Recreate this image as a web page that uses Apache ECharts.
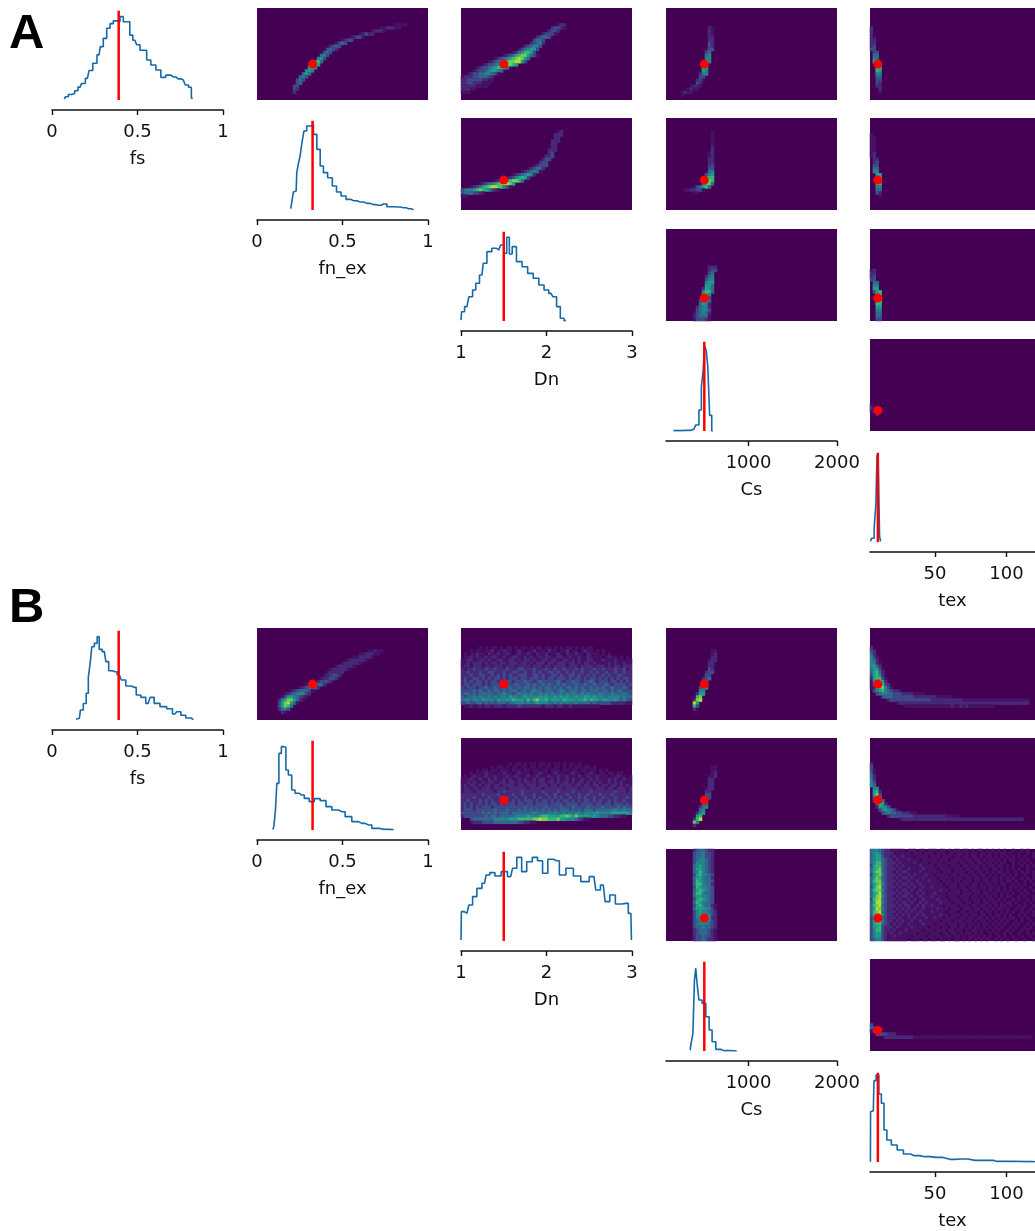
<!DOCTYPE html>
<html><head><meta charset="utf-8">
<script src="https://cdn.jsdelivr.net/npm/echarts@6/dist/echarts.min.js"></script>
<style>html,body{margin:0;padding:0;background:#fff}#main{width:1035px;height:1231px;filter:blur(0.7px)}</style>
</head><body><div id="main"></div>
<script>
// ---------- parameter names, ranges, truth values and tick labels ----------
const paramNames = ['fs','fn_ex','Dn','Cs','tex'];
const paramMin = [0,0,1,67,4.5];
const paramMax = [1,1,3,2000,120];
const paramTruth = [0.39,0.325,1.5,500,10];
const paramTicks = [[0,0.5,1],[0,0.5,1],[1,2,3],[1000,2000],[50,100]];

// ---------- 1-D histograms: [value, relative height] ----------
const histA_fs = [[.072,.01],[.086,.036],[.105,.06],[.125,.07],[.14,.10],[.164,.14],[.183,.18],[.207,.235],[.226,.32],[.251,.40],[.275,.49],[.29,.58],[.31,.67],[.33,.78],[.349,.83],[.368,.86],[.388,.85],[.407,.906],[.427,.85],[.45,.85],[.46,.705],[.485,.65],[.505,.60],[.524,.54],[.544,.54],[.563,.435],[.593,.38],[.622,.326],[.651,.246],[.68,.27],[.71,.25],[.739,.23],[.768,.217],[.791,.163],[.807,.138],[.823,.02]];
const histA_fnex = [[.197,.015],[.209,.08],[.217,.196],[.229,.206],[.236,.406],[.246,.496],[.258,.587],[.268,.732],[.281,.859],[.30,.913],[.32,.92],[.34,.822],[.36,.659],[.379,.478],[.398,.406],[.428,.351],[.453,.261],[.477,.196],[.506,.152],[.535,.116],[.564,.101],[.604,.087],[.643,.072],[.682,.058],[.711,.051],[.74,.065],[.779,.036],[.818,.033],[.857,.025],[.887,.014],[.916,.004]];
const histA_Dn = [[1.0,.01],[1.013,.10],[1.07,.156],[1.114,.264],[1.157,.337],[1.188,.41],[1.245,.50],[1.275,.627],[1.332,.754],[1.389,.79],[1.441,.772],[1.485,.826],[1.52,.736],[1.55,.91],[1.581,.728],[1.616,.808],[1.681,.645],[1.747,.59],[1.812,.518],[1.878,.464],[1.943,.391],[2.0,.337],[2.052,.30],[2.096,.264],[2.14,.156],[2.183,.03],[2.227,.004]];
const histA_Cs = [[151,.004],[319,.007],[382,.02],[424,.065],[454,.228],[479,.48],[496,.66],[506,.93],[513,.91],[529,.88],[550,.70],[571,.17],[597,0]];
const histA_tex = [[4.8,.007],[6.5,.04],[8.3,.15],[9,.42],[9.8,.945],[10.8,.855],[11.6,.06],[12.3,.007]];
const histB_fs = [[.14,.007],[.16,.018],[.173,.109],[.193,.18],[.207,.29],[.218,.47],[.228,.616],[.238,.797],[.257,.833],[.271,.906],[.281,.768],[.306,.743],[.324,.634],[.339,.536],[.368,.525],[.394,.489],[.417,.435],[.446,.37],[.48,.355],[.505,.272],[.534,.246],[.563,.181],[.583,.246],[.612,.181],[.651,.145],[.69,.123],[.719,.065],[.739,.09],[.768,.051],[.797,.022],[.827,.004]];
const histB_fnex = [[.092,.007],[.105,.036],[.111,.217],[.121,.507],[.135,.833],[.15,.906],[.164,.899],[.174,.652],[.193,.598],[.213,.435],[.232,.399],[.262,.38],[.291,.344],[.32,.308],[.35,.341],[.389,.319],[.418,.254],[.457,.217],[.496,.199],[.535,.145],[.574,.091],[.613,.072],[.652,.054],[.691,.018],[.74,.007],[.799,.004]];
const histB_Dn = [[1.0,.01],[1.009,.319],[1.07,.30],[1.114,.391],[1.157,.482],[1.214,.572],[1.275,.627],[1.31,.717],[1.362,.743],[1.432,.707],[1.507,.754],[1.581,.70],[1.624,.79],[1.681,.909],[1.738,.754],[1.799,.862],[1.869,.909],[1.921,.873],[1.987,.736],[2.044,.888],[2.118,.873],[2.183,.717],[2.271,.79],[2.358,.707],[2.445,.645],[2.555,.70],[2.598,.554],[2.664,.609],[2.707,.428],[2.773,.50],[2.838,.402],[2.926,.409],[2.987,.30],[3.0,.01]];
const histB_Cs = [[340,.01],[361,.083],[382,.192],[395,.77],[412,.90],[424,.735],[454,.554],[496,.518],[538,.373],[571,.228],[605,.10],[655,.018],[718,.004],[866,0]];
const histB_tex = [[4.8,.004],[5.0,.547],[6.8,.558],[7.8,.884],[9.8,.946],[11.6,.739],[13.3,.638],[15.3,.348],[17.3,.239],[21.6,.185],[25.4,.13],[30.4,.087],[35.4,.069],[43,.058],[50.5,.05],[60.5,.029],[68,.033],[78,.018],[90.7,.018],[93,.007],[115,.004],[120,.003]];

// ---------- 2-D density cells (57 x 30 bins): "row:firstColumn:levels", row 0 at the top ----------
const A_fs_fnex = ["5:46:1111","6:41:1122211","7:38:12221","8:34:12322","9:31:12331","10:28:1233","11:26:1343","12:24:2343","13:23:3432","14:22:343","15:21:453","16:20:563","17:19:574","18:18:676","19:17:675","20:16:565","21:15:464","22:14:453","23:13:343","24:13:34","25:12:33","26:12:32","27:12:2"];
const A_fs_Dn = ["5:32:122","6:30:23321","7:29:2332","8:27:23331","9:25:23443","10:24:3443","11:23:23452","12:21:234553","13:19:1345663","14:17:12457763","15:14:123467886431","16:11:123456789864","17:9:1234567889963","18:7:123345678876","19:5:12334567764","20:4:1233456654","21:2:12334455431","22:0:12223344432","23:0:22333332211","24:0:2233222111","25:0:222221111","26:0:22211","27:0:111"];
const A_fs_Cs = ["6:14:21","7:14:21","8:14:21","9:14:22","10:14:22","11:14:32","12:14:32","13:13:133","14:13:34","15:13:45","16:13:55","17:12:265","18:12:67","19:12:76","20:12:65","21:11:255","22:11:33","23:10:231","24:10:32","25:8:1221","26:7:1211","27:5:1211","28:5:1"];
const A_fs_tex = ["6:0:2","7:0:2","8:0:2","9:0:21","10:0:22","11:0:22","12:0:23","13:0:33","14:1:33","15:1:44","16:1:54","17:1:65","18:2:77","19:2:77","20:2:76","21:2:55","22:2:44","23:2:33","24:2:32","25:2:22","26:3:2","27:3:1"];
const A_fnex_Dn = ["4:32:12","5:31:222","6:31:22","7:30:222","8:30:22","9:30:22","10:29:222","11:29:23","12:28:223","13:27:233","14:26:233","15:24:12333","16:22:123442","17:20:1234541","18:17:12345652","19:15:12356763","20:11:1234678874","21:6:123456789986","22:3:12346789987531","23:0:3455678765321","24:0:34443321","25:0:11"];
const A_fnex_Cs = ["4:15:1","5:15:1","6:15:1","7:15:1","8:15:1","9:15:2","10:15:2","11:14:12","12:14:12","13:14:22","14:14:22","15:14:23","16:14:33","17:14:45","18:13:356","19:13:577","20:12:2687","21:12:5784","22:9:134674","23:6:1122331","24:9:11"];
const A_fnex_tex = ["5:0:1","6:0:11","7:0:11","8:0:11","9:0:11","10:0:11","11:0:12","12:0:12","13:1:22","14:1:23","15:1:33","16:1:44","17:1:55","18:2:66","19:2:77","20:2:88","21:2:77","22:2:55","23:2:44","24:2:32","25:3:1"];
const A_Dn_Cs = ["12:14:222","13:14:233","14:14:34","15:13:245","16:13:355","17:13:566","18:13:664","19:12:2664","20:12:5774","21:12:775","22:12:773","23:11:3774","24:11:4652","25:10:24552","26:10:34553","27:9:134542","28:9:234441","29:9:133321"];
const A_Dn_tex = ["13:0:12","14:0:22","15:0:23","16:0:33","17:1:44","18:1:55","19:1:66","20:1:367","21:2:77","22:2:88","23:2:88","24:2:77","25:2:66","26:2:55","27:2:44","28:2:44","29:2:33"];
const A_Cs_tex = ["21:0:1","22:0:212","23:0:123","24:2:2"];

const B_fs_fnex = ["7:37:11211","8:34:1122211","9:32:1122221","10:30:1222221","11:28:1222221","12:26:1222221","13:24:1222221","14:23:122222","15:22:122332","16:21:122332","17:20:23332","18:16:1233442","19:14:1234442","20:11:12344431","21:9:123455532","22:8:136654321","23:7:256886421","24:7:3689641","25:7:36874","26:7:2453","27:8:21"];
const B_fs_Dn = [
"6:6:10101101011010110101101101010110101011",
"7:3:10110112011211012101120110211011201101211 0101",
"8:1:1011211021121121012112102112011210211211021 110101",
"9:1:11212112122112112211212112122112211211211211 11012110101",
"10:0:1122112212112211221212212112212211221212112211 12111211011",
"11:0:11212221212212212221221212221221222122121221211 1121211211",
"12:0:1221222122 1222122212 2221222122 1222212221 2222122212 1221222",
"13:0:2122322232 2322232223 3222322232 2322322232 3222322322 2322312",
"14:0:2232223223 3222322332 2322323223 3232232322 3223232232 2322322",
"15:0:2223223322 3232323223 3322332322 3323223323 2232322323 2233222",
"16:0:2322332323 2332323332 3323332323 3233323233 2323323232 3232332",
"17:0:2323233232 3323433233 3433234333 3343233433 2334323332 3323232",
"18:0:2332333232 3333343343 3343433434 3343433343 3433433343 2333323",
"19:0:3233323343 3433434334 3443434344 3434344343 4334343433 4333432",
"20:0:3333434334 3443434443 4434544344 4345434443 4434443443 4344333",
"21:0:3443434444 4344544345 4545445454 5445454544 5454445444 5444443",
"22:0:4344545445 4545546554 5655556565 5656565565 5665655545 5554544",
"23:0:4554554655 5465565766 6575786675 6665766656 6757665665 5654543",
"24:0:3343344343 4344434455 5454565554 4545454454 4443433333 2222211",
"25:1:11211212212 2212222322 2222212221 2211211111 1111"];
const B_fs_Cs = ["7:15:11","8:15:12","9:15:22","10:14:122","11:14:22","12:14:22","13:14:32","14:13:233","15:13:33","16:12:234","17:12:44","18:12:55","19:11:356","20:11:55","21:10:266","22:10:78","23:9:289","24:9:96","25:9:73","26:9:2"];
const B_fs_tex = ["6:0:2","7:0:32","8:0:42","9:0:531","10:0:542","11:0:5521","12:0:5642","13:0:46631","14:0:46742","15:0:36752","16:0:267731","17:0:157862","18:0:1379732","19:0:12678531","20:1:3567543221","21:2:34554433322221111","22:4:3444333333 3222222221 1111","23:6:2333333333 3333322222 2222221111 1111111 111111111111","24:9:1222222222 2222222222 2222222222 2222222 222222222","25:12:1111111111 1111112112 1211111111 1"];
const B_fnex_Dn = [
"8:16:1011010110 1101011010 1101",
"9:10:1011010110 1101101011 0110101011 01101",
"10:5:1011011011 1011101101 1011011101 1011011011 0101",
"11:3:1011121101 1211012111 0112110121 1101211011 2101101 1011",
"12:1:1012111211 2111211211 1211211121 1211211121 1211211101 121101",
"13:0:1112112112 1211212112 1211212211 2121121211 2112121112 1211 211",
"14:0:1121211212 2112212212 1221212212 2121221212 2121212112 1212111",
"15:0:1212212122 1221222212 2122212221 2212222122 1221221221 2212121",
"16:0:1221221222 1222212222 2212222122 2222122221 2222122212 2122212",
"17:0:1222122222 2122322222 3222222322 2232222322 2223222222 2322212",
"18:0:2222222322 2232222322 3222322232 2322232223 2232223222 3222222",
"19:0:2222322223 2223232232 2322323223 2323223223 2322322322 2322232",
"20:0:2232223232 3223322323 2333232332 3232332323 2332323223 2322322",
"21:0:2323223232 3323233323 3233233332 3333233332 3333233233 2333232",
"22:0:2323232333 2333333333 3433333343 3334333433 3343333433 3343433",
"23:0:2333233333 3433343334 3434343434 3434443434 3444344444 4544544",
"24:0:3333333434 3434443444 4444544445 4544545455 4555565555 6666665",
"25:0:2333333343 4434444455 5565556776 6667787686 6665654443 3221100",
"26:3:3444444455 5556667777 7889887778 6655543211",
"27:3:1222333344 4444443322 11"];
const B_fnex_Cs = ["9:15:11","10:15:11","11:15:12","12:14:112","13:14:22","14:14:22","15:14:22","16:13:122","17:13:22","18:13:33","19:12:133","20:12:34","21:12:44","22:11:245","23:11:45","24:10:256","25:10:67","26:9:279","27:9:85","28:9:2"];
const B_fnex_tex = ["8:0:2","9:0:3","10:0:31","11:0:41","12:0:42","13:0:52","14:0:53","15:0:54","16:1:55","17:1:672","18:1:683","19:1:485","20:1:3784","21:2:4762","22:2:26653","23:3:3565431","24:4:3454433222 11","25:6:2333333332 2222222222 11111","26:10:1222222222 2222222222 2222222222 2222222 222222"];
const B_Dn_Cs = ["0:9:2344322","1:9:3445332","2:9:3445332","3:9:3455432","4:9:3555432","5:9:4565432","6:9:4665432","7:9:4575432","8:9:3675543","9:9:4665442","10:9:4765443","11:9:4775442","12:9:3765543","13:9:4676543","14:9:4775443","15:9:4665543","16:9:3676543","17:9:4765443","18:9:36754421","19:9:46665531","20:9:35655432","21:9:35665532","22:9:35566622","23:9:34555532","24:9:34555432","25:9:34454432","26:9:23444321","27:9:23444321","28:9:23343321","29:9:23343221"];
const B_Dn_tex = [
"0:0:4554322111 1101110110 1110110101 1011010110 1010101001 0010100",
"1:0:4565322211 1111011101 1101110110 1101011011 0101011010 0100101",
"2:0:4566322121 1211101111 0111011101 1011011010 1101010101 0101001",
"3:0:4566432212 1112111011 1110111011 1101101101 0110101011 0010100",
"4:0:4577432221 2111121111 0111101111 0110110110 1101011001 0101010",
"5:0:3677432212 1211111211 1101111011 1011011101 0110110101 0010101",
"6:0:4678432221 2112111121 1110111101 1101101101 1011010101 0100100",
"7:0:4688432212 1221111211 1111011101 1110110110 1010110100 1010101",
"8:0:3678532221 2112121112 1101111011 0111011011 0101011010 1001001",
"9:0:4687432212 1221211121 1110111101 1101101101 1011010101 0010101",
"10:0:4788432221 2112112111 2111011101 1011101101 1011010110 1001010",
"11:0:4678532212 1221211211 1111101111 0111011010 1101011001 0101001",
"12:0:3689432221 2112121121 1211110111 0110111011 0110101010 1010010",
"13:0:4788532212 1221211211 1111211011 1011011101 0101101010 0101001",
"14:0:4679432221 2122112121 1121110111 1011101101 1011010101 0010100",
"15:0:4689532212 1221211211 1211110111 0111011010 1101010110 0101001",
"16:0:3789432221 2112121121 1112111011 1011011101 0110101001 0100101",
"17:0:4699532212 1221211212 1111211101 1101101101 1011010110 1001010",
"18:0:4789432221 2122112121 1211101111 0111011011 0101011010 0101001",
"19:0:4698532212 1212121121 1112111011 1011101101 1010110100 1010010",
"20:0:4789432221 2121211211 1211110111 0110111010 1101010101 0010101",
"21:0:4789532212 1212112121 1111211011 1011011011 0101101010 0101001",
"22:0:3699432221 2112121112 1121101111 0110110110 1010101011 0010100",
"23:0:3678432212 1211211211 1111011101 1101101011 0101010100 1010010",
"24:0:3677432121 2112111121 1101110111 0110110101 1010101001 0100101",
"25:0:3667322212 1111211111 0111011011 0110101101 0101010010 1001010",
"26:0:3577322121 1121111101 1101110110 1101011010 1010100101 0010100",
"27:0:3566321211 2111110111 0111011011 0101101010 0101001010 0100101",
"28:0:3566321121 1111011110 1101101101 1010110101 0100101001 0010010",
"29:0:3455321111 1110111011 0110110101 1010101010 1001010100 1001001"];
const B_Cs_tex = ["21:0:3","22:0:432","23:0:1343","24:2:3333222","25:5:2222222222 1111111111 1111111111 1111111111 1111111111 1"];

// ---------- panels: which data belongs to which figure ----------
const histsA = [histA_fs,histA_fnex,histA_Dn,histA_Cs,histA_tex];
const histsB = [histB_fs,histB_fnex,histB_Dn,histB_Cs,histB_tex];
const heatsA = [[null,A_fs_fnex,A_fs_Dn,A_fs_Cs,A_fs_tex],[null,null,A_fnex_Dn,A_fnex_Cs,A_fnex_tex],[null,null,null,A_Dn_Cs,A_Dn_tex],[null,null,null,null,A_Cs_tex]];
const heatsB = [[null,B_fs_fnex,B_fs_Dn,B_fs_Cs,B_fs_tex],[null,null,B_fnex_Dn,B_fnex_Cs,B_fnex_tex],[null,null,null,B_Dn_Cs,B_Dn_tex],[null,null,null,null,B_Cs_tex]];

// ---------- layout ----------
const colLeft = [52,257,461,666,870];
const rowTop = [8,118,229,339,450];
const figOffset = [0,620];
const panelW = 171, panelH = 92;
const nCols = 57, nRows = 30;
const viridis = ['#440154','#471164','#482878','#3e4989','#31688e','#26828e','#1f9e89','#35b779','#6ece58','#b5de2b','#fde725'];
const txt = '#111', font = 'DejaVu Sans';

const colCats = Array.from({length:nCols},(_, i)=>i);
const rowCats = Array.from({length:nRows},(_, i)=>i);
function cells(rows){
  const out=[];
  rows.forEach(s=>{
    const p=s.split(':'), r=+p[0], c=+p[1], d=p[2].replace(/ /g,'');
    for(let i=0;i<d.length;i++){ const v=+d[i]; if(v>0 && c+i<nCols) out.push([c+i,nRows-1-r,v]); }
  });
  return out;
}
const grid=[],xAxis=[],yAxis=[],series=[],heatIdx=[];
function addFigure(hists,heats,dy){
  for(let r=0;r<5;r++){
    for(let c=r;c<5;c++){
      const g=grid.length;
      const isHist=r===c;
      grid.push({left:colLeft[c],top:rowTop[r]+dy,width:panelW,height:panelH,containLabel:false,show:!isHist,backgroundColor:'#440154',borderWidth:0});
      if(isHist){
        const xi=xAxis.length;
        xAxis.push({gridIndex:g,type:'value',min:paramMin[c],max:paramMax[c],position:'bottom',offset:10,
          name:paramNames[c],nameLocation:'middle',nameGap:40,nameTextStyle:{fontSize:18,color:txt,fontFamily:font},
          axisLine:{show:true,onZero:false,lineStyle:{color:'#111',width:1.5}},
          axisTick:{show:true,length:5,customValues:paramTicks[c],lineStyle:{color:'#111',width:1.4}},
          axisLabel:{show:true,customValues:paramTicks[c],fontSize:18,color:txt,fontFamily:font,margin:13,hideOverlap:false,formatter:v=>String(v)},
          splitLine:{show:false}});
        yAxis.push({gridIndex:g,type:'value',min:0,max:1,show:false});
        series.push({type:'line',xAxisIndex:xi,yAxisIndex:xi,data:hists[c],step:'middle',symbol:'none',silent:true,clip:true,
          lineStyle:{color:'#1669a8',width:1.6}});
        series.push({type:'line',xAxisIndex:xi,yAxisIndex:xi,data:[[paramTruth[c],0],[paramTruth[c],0.97]],symbol:'none',silent:true,
          lineStyle:{color:'#ff0000',width:2.5}});
      }else{
        const xi=xAxis.length;
        xAxis.push({gridIndex:g,type:'category',data:colCats,boundaryGap:true,show:false});
        yAxis.push({gridIndex:g,type:'category',data:rowCats,boundaryGap:true,show:false});
        xAxis.push({gridIndex:g,type:'value',min:paramMin[c],max:paramMax[c],show:false,position:'top'});
        yAxis.push({gridIndex:g,type:'value',min:paramMin[r],max:paramMax[r],show:false,position:'right'});
        heatIdx.push(series.length);
        series.push({type:'heatmap',xAxisIndex:xi,yAxisIndex:xi,data:cells(heats[r][c]),silent:true,progressive:0,itemStyle:{borderWidth:0}});
        series.push({type:'scatter',xAxisIndex:xi+1,yAxisIndex:xi+1,data:[[paramTruth[c],paramTruth[r]]],symbol:'circle',symbolSize:9,silent:true,
          itemStyle:{color:'#ff0000',opacity:1},z:5});
      }
    }
  }
}
addFigure(histsA,heatsA,figOffset[0]);
addFigure(histsB,heatsB,figOffset[1]);

const chart=echarts.init(document.getElementById('main'),null,{renderer:'canvas'});
chart.setOption({
  animation:false,backgroundColor:'#fff',
  grid,xAxis,yAxis,series,
  visualMap:{show:false,type:'continuous',min:0,max:10,dimension:2,seriesIndex:heatIdx,inRange:{color:viridis}},
  graphic:[
    {type:'text',left:9,top:10,style:{text:'A',font:'bold 49px "Liberation Sans"',fill:'#000'}},
    {type:'text',left:9,top:584,style:{text:'B',font:'bold 49px "Liberation Sans"',fill:'#000'}}
  ]
});
</script></body></html>
